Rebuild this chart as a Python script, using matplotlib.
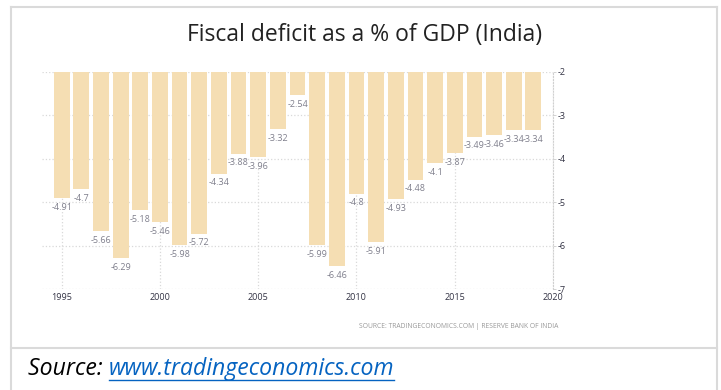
"""Fiscal deficit as a % of GDP (India) - bar chart hanging from -2"""
import matplotlib
matplotlib.use("Agg")
from matplotlib import pyplot as plt
from matplotlib.lines import Line2D

years = list(range(1995, 2020))
deficit = [-4.91, -4.7, -5.66, -6.29, -5.18, -5.46, -5.98, -5.72, -4.34, -3.88,
           -3.96, -3.32, -2.54, -5.99, -6.46, -4.8, -5.91, -4.93, -4.48, -4.1,
           -3.87, -3.49, -3.46, -3.34, -3.34]
year_ticks = [1995, 2000, 2005, 2010, 2015, 2020]
y_ticks = [-2, -3, -4, -5, -6, -7]

plt.rcParams['font.family'] = ['Open Sans', 'DejaVu Sans']

fig = plt.figure(figsize=(7.21, 3.9), dpi=100)
ax = fig.add_axes([0.0583, 0.2582, 0.7087, 0.558])

base = -2
ax.bar(years, [v - base for v in deficit], bottom=base, width=0.8,
       color='#f5deb3', zorder=2)

for x, v in zip(years, deficit):
    lbl = ('%g' % v)
    ax.annotate(lbl, (x, v), xytext=(0, -3.5), textcoords='offset points',
                ha='center', va='top', fontsize=6.5, color='#7f7f8c', zorder=3)

ax.set_xlim(1994, 2020)
ax.set_ylim(-7, -2)
ax.set_xticks(year_ticks)
ax.set_yticks(y_ticks)
ax.set_yticklabels([str(t) for t in y_ticks])
ax.yaxis.tick_right()
ax.tick_params(axis='both', length=2, width=0.6, colors='#cccccc',
               labelsize=6.5, labelcolor='#333344', pad=1.5)
ax.tick_params(axis='x', length=0, pad=3)

ax.grid(True, color='#d9d9d9', linestyle=':', linewidth=0.9, zorder=0)
for side in ['top', 'left', 'bottom']:
    ax.spines[side].set_visible(False)
ax.spines['right'].set_linestyle(':')
ax.spines['right'].set_color('#d0d0d0')

fig.text(0.505, 0.91, 'Fiscal deficit as a % of GDP (India)', ha='center',
         va='center', fontsize=16.5, color='#222222')
fig.text(0.775, 0.163, 'SOURCE: TRADINGECONOMICS.COM | RESERVE BANK OF INDIA',
         ha='right', va='center', fontsize=4.9, color='#999999')

# frame lines
frame = '#dadada'
fig.add_artist(Line2D([0.0153, 0.0153], [0, 0.982], color=frame, lw=1.5))
fig.add_artist(Line2D([0.9945, 0.9945], [0, 0.982], color=frame, lw=1.5))
fig.add_artist(Line2D([0.0153, 0.9945], [0.982, 0.982], color=frame, lw=1.5))
fig.add_artist(Line2D([0.0153, 0.9945], [0.1077, 0.1077], color=frame, lw=1.5))

t1 = fig.text(0.039, 0.038, 'Source: ', fontsize=16.6, style='italic',
              color='#000000', va='baseline')
fig.canvas.draw()
r = fig.canvas.get_renderer()
bb = t1.get_window_extent(r)
x2 = bb.x1 / fig.bbox.width
t2 = fig.text(x2, 0.038, 'www.tradingeconomics.com', fontsize=16.6,
              style='italic', color='#0563c1', va='baseline')
bb2 = t2.get_window_extent(r)
fig.add_artist(Line2D([bb2.x0 / fig.bbox.width, bb2.x1 / fig.bbox.width],
                      [0.025, 0.025], color='#0563c1', lw=1.0))

fig.savefig('out.png', dpi=100)
